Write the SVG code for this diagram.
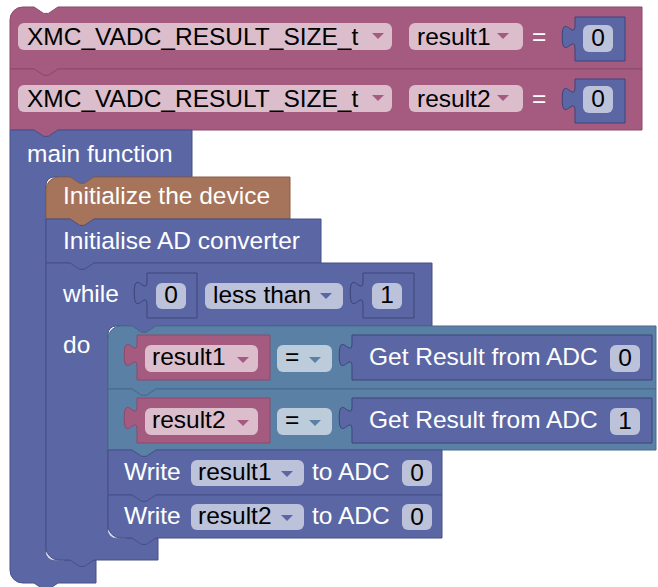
<svg xmlns="http://www.w3.org/2000/svg" width="658" height="587" viewBox="0 0 658 587">
<style>
text{font-family:"Liberation Sans",Arial,sans-serif;font-size:24.5px}
.lbl{fill:#ffffff}
.ft{fill:#000000}
.pink{fill:#a55b80;stroke:#8a4a6a;stroke-width:1}
.blue{fill:#5b67a5;stroke:#474f88;stroke-width:1}
.teal{fill:#5b80a5;stroke:#476a8c;stroke-width:1}
.brown{fill:#a5745b;stroke:#8a5f4a;stroke-width:1}
.val{fill:#5b67a5;stroke:#3c4478;stroke-width:1}
.fp{fill:#dbbdcc}
.fb{fill:#bdc2db}
.ftl{fill:#bdccdb}
.ap{fill:#a55b80}
.ab{fill:#5b67a5}
.at{fill:#5b80a5}
.hl{fill:none;stroke:#d6daf0;stroke-width:1.5}
</style>
<rect width="658" height="587" fill="#ffffff"/>

<g id="decl1">
<path class="pink" d="M10,19.8 A12.8,12.8 0 0 1 22.8,7 H34 l9.6,6.4 h4.8 l9.6,-6.4 H642 V69 H58 l-9.6,6.4 h-4.8 l-9.6,-6.4 H10 Z"/>
<rect class="fp" x="18" y="23" width="374" height="27" rx="6"/>
<text class="ft" x="27" y="45">XMC_VADC_RESULT_SIZE_t</text>
<polygon class="ap" points="372,33 384,33 378,39"/>
<rect class="fp" x="409" y="23" width="114" height="27" rx="6"/>
<text class="ft" x="417" y="45">result1</text>
<polygon class="ap" points="497,33 509,33 503,39"/>
<text class="lbl" x="532" y="45">=</text>
<g id="num_decl1">
<path class="val" d="M575,17 H625 V61 H575 V49 c0,-16 -12.8,12.8 -12.8,-12 s12.8,4 12.8,-12 Z"/>
<rect class="fb" x="583" y="25" width="30" height="27" rx="6"/>
<text class="ft" x="598" y="46" text-anchor="middle">0</text>
</g>
</g>

<g id="decl2">
<path class="pink" d="M10,69 H34 l9.6,6.4 h4.8 l9.6,-6.4 H642 V130 H58 l-9.6,6.4 h-4.8 l-9.6,-6.4 H10 Z"/>
<rect class="fp" x="18" y="85" width="374" height="27" rx="6"/>
<text class="ft" x="27" y="107">XMC_VADC_RESULT_SIZE_t</text>
<polygon class="ap" points="372,95 384,95 378,101"/>
<rect class="fp" x="409" y="85" width="114" height="27" rx="6"/>
<text class="ft" x="417" y="107">result2</text>
<polygon class="ap" points="497,95 509,95 503,101"/>
<text class="lbl" x="532" y="107">=</text>
<g id="num_decl2">
<path class="val" d="M575,79 H625 V123 H575 V111 c0,-16 -12.8,12.8 -12.8,-12 s12.8,4 12.8,-12 Z"/>
<rect class="fb" x="583" y="86" width="30" height="27" rx="6"/>
<text class="ft" x="598" y="107" text-anchor="middle">0</text>
</g>
</g>

<g id="main">
<path class="blue" d="M10,130 H34 l9.6,6.4 h4.8 l9.6,-6.4 H192 V177 H94 l-9.6,6.4 h-4.8 l-9.6,-6.4 H54 A8,8 0 0 0 46,185 V552 A8,8 0 0 0 54,560 H96 V583 H58 l-9.6,6.4 h-4.8 l-9.6,-6.4 H22.8 A12.8,12.8 0 0 1 10,570.2 Z"/>
<path class="hl" d="M46.5,552 A8,8 0 0 0 54,559.5 H64"/>
<text class="lbl" x="27" y="162">main function</text>
</g>

<g id="init_device">
<path class="brown" d="M46,189.8 A12.8,12.8 0 0 1 58.8,177 H70 l9.6,6.4 h4.8 l9.6,-6.4 H290 V219 H94 l-9.6,6.4 h-4.8 l-9.6,-6.4 H46 Z"/>
<text class="lbl" x="63" y="204">Initialize the device</text>
</g>

<g id="init_adc">
<path class="blue" d="M46,219 H70 l9.6,6.4 h4.8 l9.6,-6.4 H321 V263 H94 l-9.6,6.4 h-4.8 l-9.6,-6.4 H46 Z"/>
<text class="lbl" x="63" y="249">Initialise AD converter</text>
</g>

<g id="while">
<path class="blue" d="M46,263 H70 l9.6,6.4 h4.8 l9.6,-6.4 H432 V326 H156 l-9.6,6.4 h-4.8 l-9.6,-6.4 H116 A8,8 0 0 0 108,334 V530 A8,8 0 0 0 116,538 H158 V560 H94 l-9.6,6.4 h-4.8 l-9.6,-6.4 H58.8 A12.8,12.8 0 0 1 46,547.2 Z"/>
<path class="hl" d="M108.5,530 A8,8 0 0 0 116,537.5 H126"/>
<text class="lbl" x="63" y="302">while</text>
<text class="lbl" x="63" y="353">do</text>
<g id="num_while_a">
<path class="val" d="M147,273 H197 V318 H147 V305 c0,-16 -12.8,12.8 -12.8,-12 s12.8,4 12.8,-12 Z"/>
<rect class="fb" x="156" y="283" width="30" height="26" rx="6"/>
<text class="ft" x="171" y="303" text-anchor="middle">0</text>
</g>
<rect class="fb" x="205" y="283" width="138" height="26" rx="6"/>
<text class="ft" x="213" y="303">less than</text>
<polygon class="ab" points="320,293 332,293 326,299"/>
<g id="num_while_b">
<path class="val" d="M363,273 H414 V318 H363 V305 c0,-16 -12.8,12.8 -12.8,-12 s12.8,4 12.8,-12 Z"/>
<rect class="fb" x="372" y="283" width="30" height="26" rx="6"/>
<text class="ft" x="387" y="303" text-anchor="middle">1</text>
</g>
</g>

<g id="assign1">
<path class="teal" d="M108,338.8 A12.8,12.8 0 0 1 120.8,326 H132 l9.6,6.4 h4.8 l9.6,-6.4 H656 V389 H156 l-9.6,6.4 h-4.8 l-9.6,-6.4 H108 Z"/>
<g id="var_result1">
<path class="pink" d="M137,335 H270 V380 H137 V367 c0,-16 -12.8,12.8 -12.8,-12 s12.8,4 12.8,-12 Z"/>
<rect class="fp" x="145" y="345" width="113" height="27" rx="6"/>
<text class="ft" x="152" y="365">result1</text>
<polygon class="ap" points="237,357 249,357 243,363"/>
</g>
<rect class="ftl" x="277" y="345" width="55" height="27" rx="6"/>
<text class="ft" x="285" y="365">=</text>
<polygon class="at" points="309,357 321,357 315,363"/>
<g id="get_adc0">
<path class="val" d="M352,335 H652 V380 H352 V367 c0,-16 -12.8,12.8 -12.8,-12 s12.8,4 12.8,-12 Z"/>
<text class="lbl" x="369" y="365">Get Result from ADC</text>
<rect class="fb" x="610" y="345" width="30" height="27" rx="6"/>
<text class="ft" x="625" y="366" text-anchor="middle">0</text>
</g>
</g>

<g id="assign2">
<path class="teal" d="M108,389 H132 l9.6,6.4 h4.8 l9.6,-6.4 H656 V450 H156 l-9.6,6.4 h-4.8 l-9.6,-6.4 H108 Z"/>
<g id="var_result2">
<path class="pink" d="M137,398 H270 V443 H137 V430 c0,-16 -12.8,12.8 -12.8,-12 s12.8,4 12.8,-12 Z"/>
<rect class="fp" x="145" y="408" width="113" height="27" rx="6"/>
<text class="ft" x="152" y="428">result2</text>
<polygon class="ap" points="237,420 249,420 243,426"/>
</g>
<rect class="ftl" x="277" y="408" width="55" height="27" rx="6"/>
<text class="ft" x="285" y="428">=</text>
<polygon class="at" points="309,420 321,420 315,426"/>
<g id="get_adc1">
<path class="val" d="M352,398 H652 V443 H352 V430 c0,-16 -12.8,12.8 -12.8,-12 s12.8,4 12.8,-12 Z"/>
<text class="lbl" x="369" y="428">Get Result from ADC</text>
<rect class="fb" x="610" y="408" width="30" height="27" rx="6"/>
<text class="ft" x="625" y="429" text-anchor="middle">1</text>
</g>
</g>

<g id="write1">
<path class="blue" d="M108,450 H132 l9.6,6.4 h4.8 l9.6,-6.4 H442 V495 H156 l-9.6,6.4 h-4.8 l-9.6,-6.4 H108 Z"/>
<text class="lbl" x="124" y="480">Write</text>
<rect class="fb" x="191" y="460" width="113" height="26" rx="6"/>
<text class="ft" x="198" y="480">result1</text>
<polygon class="ab" points="281,471 293,471 287,477"/>
<text class="lbl" x="312" y="480">to ADC</text>
<rect class="fb" x="402" y="460" width="30" height="26" rx="6"/>
<text class="ft" x="417" y="481" text-anchor="middle">0</text>
</g>

<g id="write2">
<path class="blue" d="M108,495 H132 l9.6,6.4 h4.8 l9.6,-6.4 H442 V538 H156 l-9.6,6.4 h-4.8 l-9.6,-6.4 H120.8 A12.8,12.8 0 0 1 108,525.2 Z"/>
<text class="lbl" x="124" y="524">Write</text>
<rect class="fb" x="191" y="504" width="113" height="26" rx="6"/>
<text class="ft" x="198" y="524">result2</text>
<polygon class="ab" points="281,515 293,515 287,521"/>
<text class="lbl" x="312" y="524">to ADC</text>
<rect class="fb" x="402" y="504" width="30" height="26" rx="6"/>
<text class="ft" x="417" y="525" text-anchor="middle">0</text>
</g>

<g id="connectors"></g>
</svg>
